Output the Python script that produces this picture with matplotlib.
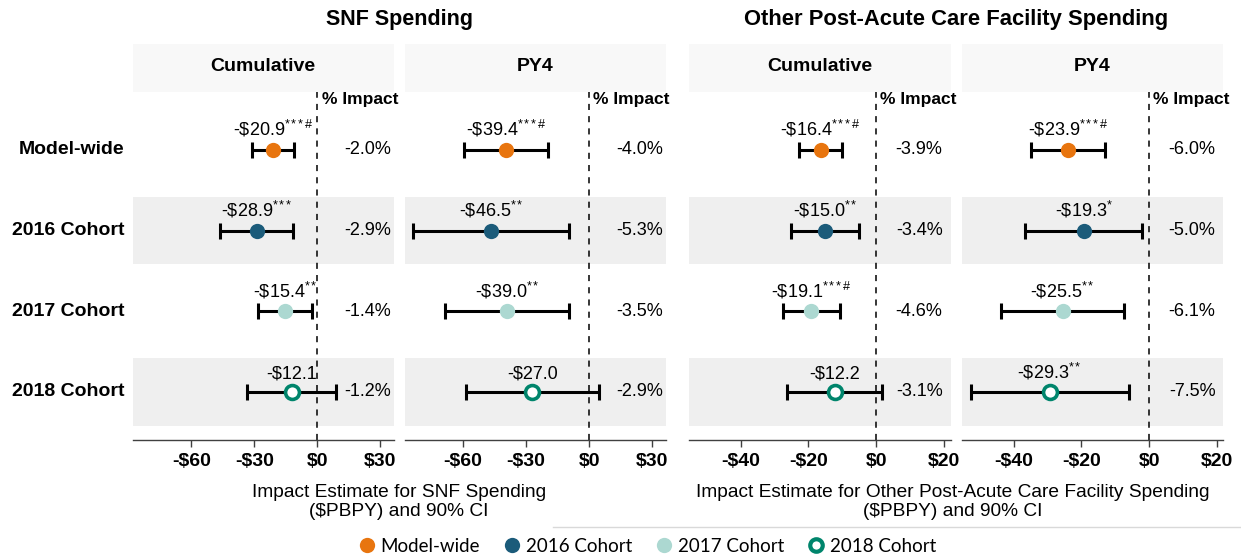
import numpy as np
import matplotlib
matplotlib.use('Agg')
import matplotlib.pyplot as plt
import matplotlib.transforms as mtransforms
from matplotlib.lines import Line2D

plt.rcParams['font.family'] = ['Liberation Sans', 'DejaVu Sans']
plt.rcParams['mathtext.fontset'] = 'custom'
plt.rcParams['mathtext.rm'] = 'Liberation Sans'
plt.rcParams['mathtext.it'] = 'Liberation Sans:italic'
plt.rcParams['mathtext.bf'] = 'Liberation Sans:bold'

# rows, top to bottom
rows = ['Model-wide', '2016 Cohort', '2017 Cohort', '2018 Cohort']
row_y = [4, 3, 2, 1]

# SNF spending
snf_cum_est = [-20.9, -28.9, -15.4, -12.1]
snf_cum_hw = [10.0, 17.4, 12.9, 21.2]
snf_cum_sig = ['***#', '***', '**', '']
snf_cum_pct = ['-2.0%', '-2.9%', '-1.4%', '-1.2%']

snf_py4_est = [-39.4, -46.5, -39.0, -27.0]
snf_py4_hw = [20.0, 37.0, 29.5, 31.5]
snf_py4_sig = ['***#', '**', '**', '']
snf_py4_pct = ['-4.0%', '-5.3%', '-3.5%', '-2.9%']

# other post-acute care facility spending
oth_cum_est = [-16.4, -15.0, -19.1, -12.2]
oth_cum_hw = [6.2, 10.0, 8.5, 14.0]
oth_cum_sig = ['***#', '**', '***#', '']
oth_cum_pct = ['-3.9%', '-3.4%', '-4.6%', '-3.1%']

oth_py4_est = [-23.9, -19.3, -25.5, -29.3]
oth_py4_hw = [11.0, 17.2, 18.1, 23.3]
oth_py4_sig = ['***#', '*', '**', '**']
oth_py4_pct = ['-6.0%', '-5.0%', '-6.1%', '-7.5%']

snf_ticks = [-60, -30, 0, 30]
oth_ticks = [-40, -20, 0, 20]

colors = ['#e8750f', '#1b5b7a', '#acd8d1', '#00856c']

W, H = 1241, 558
fig = plt.figure(figsize=(W / 100, H / 100), dpi=100)

ax_bot, ax_top = 440, 92
strip_top = 44

panels = [
    (132.5, 394, 'Cumulative', snf_cum_est, snf_cum_hw, snf_cum_sig, snf_cum_pct, snf_ticks, (-88, 36.5), 24.0),
    (405, 666, 'PY4', snf_py4_est, snf_py4_hw, snf_py4_sig, snf_py4_pct, snf_ticks, (-87.5, 36.5), 24.0),
    (689, 951, 'Cumulative', oth_cum_est, oth_cum_hw, oth_cum_sig, oth_cum_pct, oth_ticks, (-55.2, 22.1), 12.7),
    (962, 1223, 'PY4', oth_py4_est, oth_py4_hw, oth_py4_sig, oth_py4_pct, oth_ticks, (-55.2, 21.8), 12.7),
]


def sig_tex(s):
    # braces stop mathtext from spacing the stars as operators
    return r'\/'.join('{*}' if c == '*' else r'\#' for c in s)


axes = []
for i, (x0, x1, strip, est, hw, sig, pct, ticks, xlim, pct_x) in enumerate(panels):
    ax = fig.add_axes([x0 / W, 1 - ax_bot / H, (x1 - x0) / W, (ax_bot - ax_top) / H])
    axes.append(ax)
    ax.set_xlim(*xlim)
    ax.set_ylim(0.405, 4.717)

    for y in [3, 1]:
        ax.axhspan(y - 0.42, y + 0.42, color='#efefef', zorder=0, lw=0)

    ax.axvline(0, color='black', lw=1.1, ls=(0, (4, 4)), zorder=1)

    for j in range(4):
        ax.errorbar(est[j], row_y[j], xerr=hw[j], fmt='none', ecolor='black',
                    elinewidth=2.2, capsize=5.5, capthick=2.2, zorder=2)
        if j == 3:
            ax.plot(est[j], row_y[j], 'o', ms=10, mfc='white', mec=colors[j], mew=2.6, zorder=3)
        else:
            ax.plot(est[j], row_y[j], 'o', ms=11, color=colors[j], mec='none', zorder=3)
        lab = '-\\$%.1f' % abs(est[j])
        if sig[j]:
            lab += '$^{' + sig_tex(sig[j]) + '}$'
        ax.annotate(lab, (est[j], row_y[j]), xytext=(0, 10), textcoords='offset points',
                    ha='center', va='baseline', fontsize=13)
        ax.text(pct_x, row_y[j], pct[j], ha='center', va='center', fontsize=13)

    ax.annotate('% Impact', (0, 4.63), xytext=(3, 0), textcoords='offset points',
                ha='left', va='center', fontsize=12.5, fontweight='bold')

    ax.set_xticks(ticks)
    ax.set_xticklabels([('-\\$%d' % abs(t)) if t < 0 else ('\\$%d' % t) for t in ticks],
                       fontsize=14, fontweight='bold')
    ax.set_yticks([])
    for s in ['top', 'left', 'right']:
        ax.spines[s].set_visible(False)
    ax.spines['bottom'].set_color('#404040')
    ax.spines['bottom'].set_linewidth(1)
    ax.tick_params(axis='x', length=5, width=1, color='#404040', pad=4)
    ax.patch.set_alpha(0)

    sax = fig.add_axes([x0 / W, 1 - ax_top / H, (x1 - x0) / W, (ax_top - strip_top) / H])
    sax.set_facecolor('#f8f8f8')
    sax.set_xticks([])
    sax.set_yticks([])
    for s in sax.spines.values():
        s.set_visible(False)
    sax.text(0.5, 0.53, strip, ha='center', va='center', fontsize=14, fontweight='bold',
             transform=sax.transAxes)

# row labels
tr = mtransforms.blended_transform_factory(fig.transFigure, axes[0].transData)
for name, y in zip(rows, row_y):
    fig.text(124 / W, y, name, transform=tr, ha='right', va='center', fontsize=14, fontweight='bold')

# group titles
fig.text(399 / W, 1 - 20 / H, 'SNF Spending', ha='center', va='center', fontsize=15.5, fontweight='bold')
fig.text(956 / W, 1 - 20 / H, 'Other Post-Acute Care Facility Spending', ha='center', va='center',
         fontsize=15.8, fontweight='bold')

# axis titles
fig.text(399 / W, 1 - 502 / H, 'Impact Estimate for SNF Spending\n(\\$PBPY) and 90% CI',
         ha='center', va='center', fontsize=13.8, linespacing=1.2)
fig.text(953 / W, 1 - 502 / H, 'Impact Estimate for Other Post-Acute Care Facility Spending\n(\\$PBPY) and 90% CI',
         ha='center', va='center', fontsize=13.8, linespacing=1.2)

fig.add_artist(Line2D([553 / W, 1], [1 - 527 / H, 1 - 527 / H], transform=fig.transFigure,
                      color='#d9d9d9', lw=1))

# legend
handles = [
    Line2D([], [], ls='none', marker='o', ms=11, color=colors[0], mec='none'),
    Line2D([], [], ls='none', marker='o', ms=11, color=colors[1], mec='none'),
    Line2D([], [], ls='none', marker='o', ms=11, color=colors[2], mec='none'),
    Line2D([], [], ls='none', marker='o', ms=9, mfc='white', mec=colors[3], mew=3),
]
fig.legend(handles, rows, loc='center', bbox_to_anchor=(647 / W, 1 - 546 / H), ncol=4,
           frameon=False, prop={'family': 'Lato', 'size': 13.5}, handletextpad=0.25,
           columnspacing=1.2, handlelength=1.0)

fig.savefig('out.png', dpi=100)
